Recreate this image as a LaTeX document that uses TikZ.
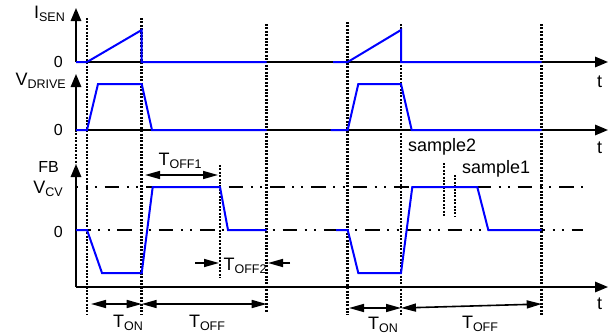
\documentclass[tikz,border=0pt]{standalone}
\usepackage{fontspec}
\setmainfont{Liberation Sans}
\usetikzlibrary{arrows.meta}

\tikzset{
  axis/.style={line width=1.6pt, -{Triangle[length=13pt,width=10.5pt]}},
  wave/.style={blue, line width=2pt, line join=miter},
  marker/.style={line width=2.6pt, dash pattern=on 2pt off 1.4pt},
  level/.style={line width=2.5pt, dash pattern=on 14.7pt off 7.5pt on 2pt off 7.3pt on 2pt off 7.8pt},
  span/.style={line width=1.6pt, {Triangle[length=15pt,width=8pt]}-{Triangle[length=15pt,width=8pt]}},
  pointer/.style={line width=1.6pt, -{Triangle[length=15pt,width=8pt]}},
  lbl/.style={font=\fontsize{18}{18}\selectfont, inner sep=0pt},
  zero/.style={font=\fontsize{16}{16}\selectfont, inner sep=0pt, anchor=base east},
}
\newcommand{\subl}[2]{#1\raisebox{-3.5pt}{\fontsize{12.5}{12.5}\selectfont #2}}

\begin{document}
\begin{tikzpicture}[x=1pt, y=-1pt]
  \useasboundingbox (0,0) rectangle (608,335);

  % Axes: I_SEN
  \coordinate (isen0) at (76,62);
  \coordinate (isentop) at (76,8);
  \coordinate (isenend) at (608,62);
  \draw[axis] (isen0) -- (isentop);
  \draw[axis] (isen0) -- (isenend);

  % Axes: V_DRIVE
  \coordinate (drv0) at (76,130);
  \coordinate (drvtop) at (76,74);
  \coordinate (drvend) at (608,130);
  \draw[axis] (drv0) -- (drvtop);
  \draw[axis] (drv0) -- (drvend);

  % Axes: FB
  \coordinate (fb0) at (76,287);
  \coordinate (fbtop) at (76,164);
  \coordinate (fbend) at (608,287);
  \draw[axis] (fb0) -- (fbtop);
  \draw[axis] (fb0) -- (fbend);
  \draw[marker] (drv0) -- (fbtop);

  % Levels: V_CV and 0
  \draw[level, dash phase=12.6pt] (76,187) -- (583,187);
  \draw[level] (76,230) -- (583,230);

  % Markers: switching instants
  \foreach \x/\ytop/\ybot in {87/18/315, 141.7/18/315, 266.7/24/312,
                              347.7/22/315, 401/24/315, 541.7/24/315}
    \draw[marker] (\x,\ytop) -- (\x,\ybot);
  \draw[marker] (220,165) -- (220,278);
  \draw[marker] (444,163) -- (444,217);
  \draw[marker] (455,175) -- (455,217);

  % Waveforms: first cycle
  \draw[wave] (76,62) -- (87,62) -- (141.7,30) -- (141.7,62) -- (266.7,62);
  \draw[wave] (76,130) -- (87,130) -- (98,84) -- (141.7,84) -- (152,130) -- (266.7,130);
  \draw[wave] (76,230) -- (87,230) -- (102,273) -- (141.7,273) -- (152.7,187)
    -- (220,187) -- (228,230) -- (266.7,230);

  % Waveforms: second cycle
  \draw[wave] (333,62) -- (347.7,62) -- (401,30) -- (401,62) -- (541.7,62);
  \draw[wave] (330.7,130) -- (347.7,130) -- (358.3,84) -- (401,84) -- (411.7,130) -- (541.7,130);
  \draw[wave] (336,230) -- (347.7,230) -- (358.3,273) -- (401,273) -- (412.3,187)
    -- (477.3,187) -- (488.3,230) -- (541.7,230);

  % Labels: axes
  \node[lbl, anchor=base east] (isenlbl) at (65,18.3) {\subl{I}{SEN}};
  \node[lbl, anchor=base east] (drvlbl) at (66,85) {\subl{V}{DRIVE}};
  \node[zero] (fblbl) at (59,172) {FB};
  \node[lbl, anchor=base east] (cvlbl) at (63,193) {\subl{V}{CV}};
  \node[zero] (isenzero) at (63,67.5) {0};
  \node[zero] (drvzero) at (63,135.5) {0};
  \node[zero] (fbzero) at (63,237.5) {0};
  \node[lbl, anchor=base west] (t1) at (597,87) {t};
  \node[lbl, anchor=base west] (t2) at (597,153) {t};
  \node[lbl, anchor=base west] (t3) at (597,309) {t};

  % Labels: sampling points
  \node[lbl, anchor=base west] (smp2) at (408,151) {sample2};
  \node[lbl, anchor=base west] (smp1) at (462,173) {sample1};

  % Timing: first cycle
  \coordinate (ton1a) at (91,304);
  \coordinate (ton1b) at (141.7,304);
  \coordinate (toff1b) at (266.7,304);
  \draw[span] (ton1a) -- (ton1b);
  \draw[span] (ton1b) -- (toff1b);
  \node[lbl, anchor=base] (ton1) at (128,327) {\subl{T}{ON}};
  \node[lbl, anchor=base] (toff1) at (207,327) {\subl{T}{OFF}};

  \coordinate (toffa) at (145,175);
  \coordinate (toffb) at (218,175);
  \draw[span] (toffa) -- (toffb);
  \node[lbl, anchor=base] (toffone) at (180,165) {\subl{T}{OFF1}};

  \coordinate (toff2l) at (195,263);
  \coordinate (toff2r) at (290,263);
  \coordinate (toff2a) at (219,263);
  \coordinate (toff2b) at (268,263);
  \draw[pointer] (toff2l) -- (toff2a);
  \draw[pointer] (toff2r) -- (toff2b);
  \node[lbl, anchor=base] (tofftwo) at (245,270) {\subl{T}{OFF2}};

  % Timing: second cycle
  \coordinate (ton2a) at (349,308);
  \coordinate (ton2b) at (401,308);
  \coordinate (toff2e) at (541.7,304);
  \draw[span] (ton2a) -- (ton2b);
  \draw[span] (ton2b) -- (toff2e);
  \node[lbl, anchor=base] (ton2) at (383,329) {\subl{T}{ON}};
  \node[lbl, anchor=base] (toff2) at (480,328) {\subl{T}{OFF}};
\end{tikzpicture}
\end{document}
